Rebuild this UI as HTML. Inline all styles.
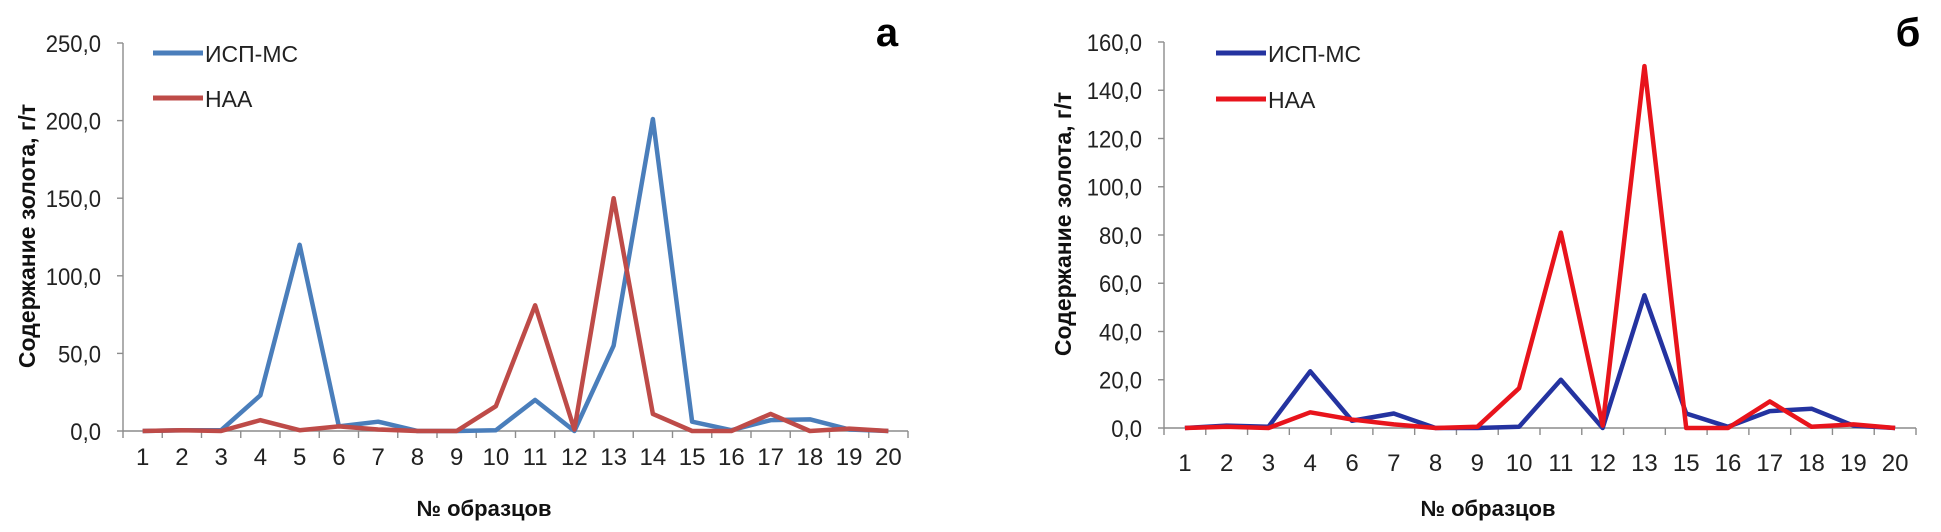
<!DOCTYPE html>
<html><head><meta charset="utf-8"><style>
body{margin:0;background:#fff;}
svg{display:block;font-family:"Liberation Sans",sans-serif;}
</style></head><body>
<svg id="c" width="1941" height="532" viewBox="0 0 1941 532"></svg>
<script>
const catsA=["1","2","3","4","5","6","7","8","9","10","11","12","13","14","15","16","17","18","19","20"];
const icpA=[0,0.5,0.5,23,120,3,6,0,0,0.5,20,0,55,201,6,0.5,7,7.5,1,0];
const naaA=[0,0.5,0,7,0.5,3,1,0,0,16,81,1,150,11,0,0,11,0,1.5,0];
const ticksA=[0,50,100,150,200,250];
const catsB=["1","2","3","4","6","7","8","9","10","11","12","13","15","16","17","18","19","20"];
const icpB=[0,1,0.5,23.5,3,6,0,0,0.5,20,0,55,6,0.5,7,8,1,0];
const naaB=[0,0.5,0,6.5,3.5,1.5,0,0.5,16.5,81,1,150,0,0,11,0.5,1.5,0];
const ticksB=[0,20,40,60,80,100,120,140,160];
const NS="http://www.w3.org/2000/svg";
const svg=document.getElementById('c');
function mk(t,a,p){const e=document.createElementNS(NS,t);for(const k in a)e.setAttribute(k,a[k]);(p||svg).appendChild(e);return e;}
function chart(o){
  const g=mk('g',{});
  
  
  const n=o.cats.length,bw=(o.x1-o.x0)/n;
  const X=i=>o.x0+bw*(i+0.5);
  const Y=v=>o.y0-(v/o.max)*(o.y0-o.yTop);
  let ax=mk('line',{x1:o.x0,y1:o.yTop,x2:o.x0,y2:o.y0,stroke:'#8c8c8c','stroke-width':1.4},g);
  
  ax=mk('line',{x1:o.x0,y1:o.y0,x2:o.x1,y2:o.y0,stroke:'#8c8c8c','stroke-width':1.4},g);
  
  o.ticks.forEach(t=>{
    mk('line',{x1:o.x0-6,y1:Y(t),x2:o.x0,y2:Y(t),stroke:'#8c8c8c','stroke-width':1.4},g);
    const tx=mk('text',{x:o.x0-22,y:Y(t)+9,'text-anchor':'end','font-size':24,fill:'#222',transform:`translate(${o.x0-22},0) scale(0.92,1) translate(${-(o.x0-22)},0)`},g);
    tx.textContent=t.toFixed(1).replace('.',',');
    
  });
  for(let i=0;i<=n;i++) mk('line',{x1:o.x0+bw*i,y1:o.y0,x2:o.x0+bw*i,y2:o.y0+7,stroke:'#8c8c8c','stroke-width':1.4},g);
  o.cats.forEach((c,i)=>{
    const tx=mk('text',{x:X(i),y:o.labY,'text-anchor':'middle','font-size':24,fill:'#222'},g);
    tx.textContent=c;
    
  });
  o.series.forEach(s=>{
    const p=mk('polyline',{points:s.v.map((v,i)=>X(i)+','+Y(v)).join(' '),fill:'none',stroke:s.c,'stroke-width':4.5,'stroke-linejoin':'round'},g);
    
  });
  o.series.forEach((s,k)=>{
    const ly=o.legY[k];
    const l=mk('line',{x1:o.legX,y1:ly,x2:o.legX+50,y2:ly,stroke:s.c,'stroke-width':5},g);
    
    const t=mk('text',{x:o.legX+52,y:ly+9,'font-size':23,fill:'#222'},g);
    t.textContent=s.label;
    
  });
  const yt=mk('text',{transform:`translate(${o.ytX},${o.ytY}) rotate(-90)`,'text-anchor':'middle','font-size':23,'font-weight':'bold',fill:'#111'},g);
  yt.textContent='Содержание золота, г/т';
  
  const xt=mk('text',{x:o.xtX,y:o.xtY,'text-anchor':'middle','font-size':22,'font-weight':'bold',fill:'#111'},g);
  xt.textContent='№ образцов';
  
  const pl=mk('text',{x:o.pX,y:o.pY,'text-anchor':'middle','font-size':40,'font-weight':'bold',fill:'#000'},g);
  pl.textContent=o.panel;
  
}
chart({name:'chart-a',cats:catsA,ticks:ticksA,max:250,x0:123,x1:908,y0:431,yTop:43,labY:465,
  series:[{v:icpA,c:'#4a7ebb',n:'icp-ms',label:'ИСП-МС'},{v:naaA,c:'#be4b48',n:'naa',label:'НАА'}],
  legX:153,legY:[53,98],ytX:35,ytY:236,xtX:484,xtY:516,panel:'а',pX:887,pY:46});
chart({name:'chart-b',cats:catsB,ticks:ticksB,max:160,x0:1164,x1:1916,y0:428,yTop:42,labY:471,
  series:[{v:icpB,c:'#2433a0',n:'icp-ms',label:'ИСП-МС'},{v:naaB,c:'#e8141c',n:'naa',label:'НАА'}],
  legX:1216,legY:[53,99],ytX:1071,ytY:224,xtX:1488,xtY:516,panel:'б',pX:1908,pY:46});
</script>
</body></html>
